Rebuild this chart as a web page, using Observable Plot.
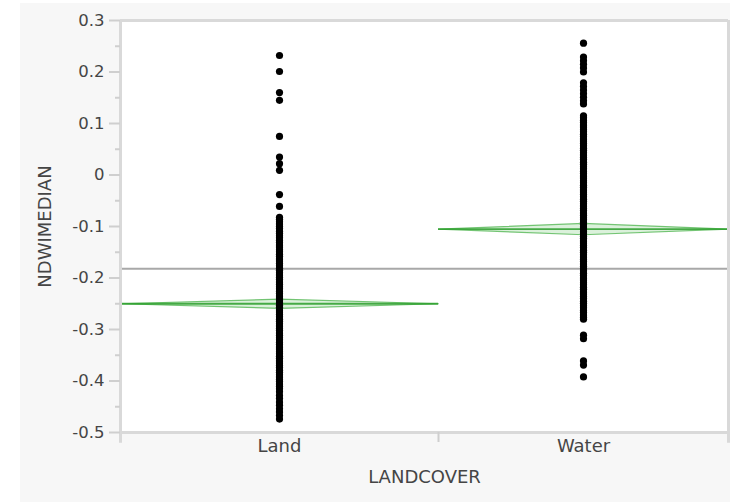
<!DOCTYPE html>
<html><head><meta charset="utf-8">
<script src="https://cdn.jsdelivr.net/npm/d3@7"></script>
<script src="https://cdn.jsdelivr.net/npm/@observablehq/plot@0.6"></script>
<style>
html,body{margin:0;padding:0;background:#fff;}
#chart{position:absolute;left:20px;top:3px;width:710px;height:499px;background:#f7f7f7;}
#chart svg{display:block;background:transparent;}
</style></head><body><div id="chart"></div>
<script>
// ---- data ----
const categories = ["Land", "Water"];
const groupWidth = [318, 290];          // proportional X widths of the two groups (as in JMP)
const landValues = [
  0.232, 0.201, 0.160, 0.145, 0.075, 0.035, 0.022, 0.009, -0.038, -0.061,
  -0.082, -0.086, -0.091, -0.095, -0.100, -0.104, -0.109, -0.113, -0.118, -0.122,
  -0.127, -0.131, -0.136, -0.140, -0.145, -0.149, -0.154, -0.158, -0.163, -0.167,
  -0.172, -0.176, -0.181, -0.185, -0.190, -0.194, -0.199, -0.203, -0.208, -0.212,
  -0.217, -0.221, -0.226, -0.230, -0.235, -0.239, -0.244, -0.248, -0.253, -0.257,
  -0.262, -0.266, -0.271, -0.275, -0.280, -0.284, -0.289, -0.293, -0.298, -0.302,
  -0.307, -0.311, -0.316, -0.320, -0.325, -0.329, -0.334, -0.338, -0.343, -0.347,
  -0.352, -0.356, -0.361, -0.365, -0.370, -0.374, -0.379, -0.383, -0.388, -0.392,
  -0.397, -0.401, -0.406, -0.410, -0.415, -0.421, -0.428, -0.434, -0.441, -0.447,
  -0.454, -0.460, -0.467, -0.474
];
const waterValues = [
  0.256, 0.229, 0.222, 0.215, 0.208, 0.200, 0.179, 0.172, 0.165, 0.158,
  0.151, 0.144, 0.138, 0.115, 0.111, 0.106, 0.102, 0.097, 0.093, 0.088,
  0.084, 0.079, 0.075, 0.070, 0.066, 0.061, 0.057, 0.052, 0.048, 0.043,
  0.039, 0.034, 0.030, 0.025, 0.021, 0.016, 0.012, 0.007, 0.003, -0.002,
  -0.006, -0.011, -0.015, -0.020, -0.024, -0.029, -0.033, -0.038, -0.042, -0.047,
  -0.051, -0.056, -0.060, -0.065, -0.069, -0.074, -0.078, -0.083, -0.087, -0.092,
  -0.096, -0.101, -0.105, -0.110, -0.114, -0.119, -0.123, -0.128, -0.132, -0.137,
  -0.141, -0.146, -0.150, -0.155, -0.159, -0.164, -0.168, -0.173, -0.177, -0.182,
  -0.186, -0.191, -0.195, -0.200, -0.204, -0.209, -0.213, -0.218, -0.222, -0.227,
  -0.231, -0.236, -0.240, -0.245, -0.249, -0.254, -0.258, -0.263, -0.267, -0.272,
  -0.276, -0.280, -0.311, -0.318, -0.361, -0.369, -0.392
];
const groupMeans = [-0.250, -0.105];
const groupCI = [0.009, 0.011];
const grandMean = -0.182;
const yTicks = [0.3, 0.2, 0.1, 0, -0.1, -0.2, -0.3, -0.4, -0.5];
const yTickLabels = ["0.3", "0.2", "0.1", "0", "-0.1", "-0.2", "-0.3", "-0.4", "-0.5"];
const yMinorTicks = [0.25, 0.15, 0.05, -0.05, -0.15, -0.25, -0.35, -0.45];
const xLabel = "LANDCOVER";
const yLabel = "NDWIMEDIAN";

// ---- derived tables ----
const starts = [0, groupWidth[0]];
const total = groupWidth[0] + groupWidth[1];
const groups = categories.map((c, i) => ({
  cat: c, x1: starts[i], x2: starts[i] + groupWidth[i], xc: starts[i] + groupWidth[i] / 2,
  mean: groupMeans[i], ci: groupCI[i]
}));
const points = [
  ...landValues.map(v => ({x: groups[0].xc, y: v})),
  ...waterValues.map(v => ({x: groups[1].xc, y: v}))
];
const diamond = groups.flatMap(g => [
  {g: g.cat, x: g.x1, y: g.mean},
  {g: g.cat, x: g.xc, y: g.mean + g.ci},
  {g: g.cat, x: g.x2, y: g.mean},
  {g: g.cat, x: g.xc, y: g.mean - g.ci},
  {g: g.cat, x: g.x1, y: g.mean}
]);

const FONT = "DejaVu Sans";
const frameGray = "#d9d9d9";
const textGray = "#454545";

const chart = Plot.plot({
  width: 710, height: 499,
  marginLeft: 100, marginRight: 2, marginTop: 17, marginBottom: 70,
  style: {fontFamily: FONT, background: "transparent", color: textGray},
  x: {type: "linear", domain: [0, total], label: null},
  y: {domain: [-0.5, 0.3], label: null},
  marks: [
    Plot.frame({fill: "white", stroke: "none"}),
    Plot.ruleY([grandMean], {stroke: "#a8a8a8", strokeWidth: 2}),
    Plot.line(diamond, {x: "x", y: "y", z: "g", stroke: "#3fae3f", strokeWidth: 1.2, strokeOpacity: 0.7, fill: "#5cbf5c", fillOpacity: 0.22}),
    Plot.ruleY(groups, {y: "mean", x1: "x1", x2: "x2", stroke: "#2a9d2a", strokeWidth: 1.8, strokeOpacity: 0.85}),
    Plot.dot(points, {x: "x", y: "y", r: 3.6, fill: "black", stroke: "none"}),
    Plot.ruleY([0.3, -0.5], {stroke: frameGray, strokeWidth: 3}),
    Plot.ruleX([0, total], {y1: 0.3, y2: -0.521, stroke: frameGray, strokeWidth: 3}),
    Plot.axisY(yTicks, {tickSize: 11, tickFormat: () => "", stroke: "#cfcfcf", strokeWidth: 2, label: null}),
    Plot.axisY(yMinorTicks, {tickSize: 5, tickFormat: () => "", stroke: "#cfcfcf", strokeWidth: 2, label: null}),
    Plot.axisY(yTicks, {tickSize: 0, tickPadding: 16, tickFormat: (d, i) => yTickLabels[i], fontSize: 16.5, fill: textGray, label: null}),
    Plot.axisX([groupWidth[0]], {tickSize: 10, tickFormat: () => "", stroke: "#cfcfcf", strokeWidth: 2, label: null}),
    Plot.axisX(groups.map(g => g.xc), {tickSize: 0, tickPadding: 7, tickFormat: (d, i) => categories[i], fontSize: 18, fill: textGray, label: null}),
    Plot.text([yLabel], {frameAnchor: "left", dx: -75, rotate: -90, textAnchor: "middle", lineAnchor: "middle", fontSize: 18, fill: textGray}),
    Plot.text([xLabel], {frameAnchor: "bottom", dy: 45, textAnchor: "middle", lineAnchor: "middle", fontSize: 18, fill: textGray})
  ]
});
document.getElementById("chart").appendChild(chart);
</script></body></html>
